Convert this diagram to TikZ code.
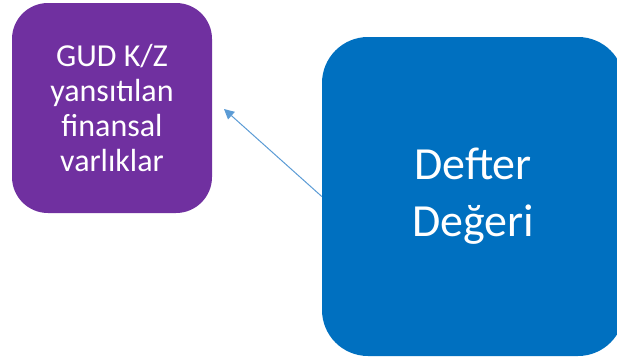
\documentclass[tikz,border=0pt]{standalone}
\usepackage{fontspec}
\setmainfont{Carlito}
\usetikzlibrary{arrows.meta}
\definecolor{boxpurple}{HTML}{7030A0}
\definecolor{boxblue}{HTML}{0070C0}
\definecolor{arrowblue}{HTML}{5B9BD5}
\tikzset{
  card/.style={rectangle, rounded corners=#1, inner sep=0pt, align=center, text=white},
  link/.style={draw=arrowblue, line width=1pt, -{Triangle[length=10pt,width=10pt]}}
}
\begin{document}
\begin{tikzpicture}[x=1pt,y=-1pt]
\useasboundingbox (0,0) rectangle (617,359);
\node[card=36pt, fill=boxpurple, minimum width=200pt, minimum height=210pt,
      font=\fontsize{32}{35}\selectfont] (fva) at (112,108)
      {GUD K/Z\\yansıtılan\\finansal\\varlıklar};
\node[card=46pt, fill=boxblue, minimum width=302pt, minimum height=319pt,
      font=\fontsize{46}{57}\selectfont] (dd) at (473,196.5)
      {Defter\\Değeri};
\coordinate (tip) at (224,109);
\draw[link] (dd.west) -- (tip);
\end{tikzpicture}
\end{document}
